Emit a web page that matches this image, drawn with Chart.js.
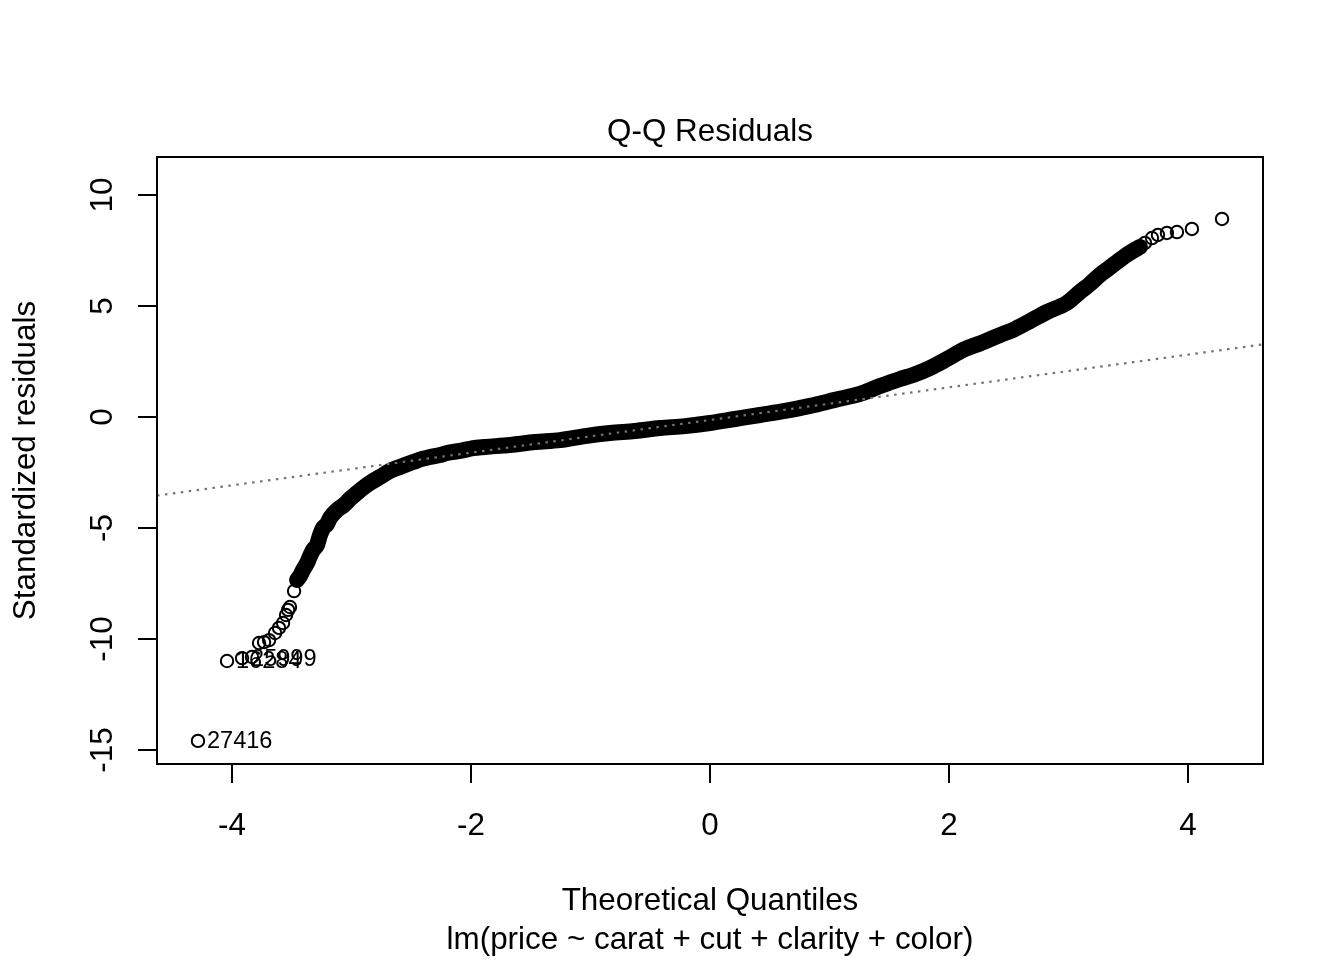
<!DOCTYPE html>
<html>
<head>
<meta charset="utf-8">
<script src="https://cdn.jsdelivr.net/npm/chart.js@4.4.1/dist/chart.umd.min.js"></script>
<style>
  html, body { margin: 0; padding: 0; background: #fff; }
  #wrap { width: 1344px; height: 960px; }
</style>
</head>
<body>
<div id="wrap"><canvas id="qqChart"></canvas></div>
<script>
// dense middle of the Q-Q cloud (theoretical quantile, standardized residual)
const bandTheo = [
  -3.456, -3.431, -3.406, -3.372, -3.347, -3.322, -3.289, -3.264, -3.238, -3.205,
  -3.18, -3.121, -3.063, -3.013, -2.954, -2.904, -2.845, -2.762, -2.678, -2.619,
  -2.552, -2.485, -2.41, -2.343, -2.259, -2.201, -2.092, -1.983, -1.883, -1.674,
  -1.464, -1.255, -1.046, -0.837, -0.628, -0.418, -0.209, 0, 0.209, 0.418,
  0.628, 0.837, 1.046, 1.255, 1.423, 1.59, 1.699, 1.841, 1.983, 2.134,
  2.259, 2.427, 2.536, 2.678, 2.82, 2.987, 3.096, 3.18, 3.264, 3.331,
  3.406, 3.473, 3.54, 3.598
];
const bandResid = [
  -7.34, -7.16, -6.89, -6.58, -6.26, -5.99, -5.77, -5.32, -5.0, -4.82,
  -4.55, -4.19, -3.96, -3.69, -3.42, -3.2, -2.97, -2.7, -2.43, -2.3,
  -2.16, -2.03, -1.89, -1.8, -1.71, -1.62, -1.53, -1.4, -1.35, -1.26,
  -1.13, -1.04, -0.86, -0.72, -0.63, -0.5, -0.41, -0.27, -0.09, 0.09,
  0.27, 0.5, 0.77, 1.04, 1.39, 1.71, 1.89, 2.21, 2.61, 3.06,
  3.31, 3.69, 3.92, 4.32, 4.73, 5.14, 5.63, 5.99, 6.4, 6.67,
  6.98, 7.25, 7.48, 7.66
];

// separate circles in the tails
const lowTheo = [-4.285, -4.042, -3.916, -3.833, -3.774, -3.732, -3.69, -3.64, -3.607, -3.573, -3.548, -3.531, -3.515, -3.481];
const lowResid = [-14.59, -10.99, -10.86, -10.81, -10.18, -10.14, -10.05, -9.73, -9.5, -9.28, -8.92, -8.69, -8.56, -7.84];
const highTheo = [3.64, 3.699, 3.749, 3.824, 3.908, 4.033, 4.285];
const highResid = [7.84, 8.06, 8.2, 8.29, 8.33, 8.47, 8.92];

// observation numbers printed next to the three most extreme points
const idLabels = ["27416", "16284", "25999"];
const idIndex = [0, 1, 2];

const qqLineX = [-4.628, 4.628];
const qqLineY = [-3.54, 3.27];

const xTicks = [-4, -2, 0, 2, 4];
const yTicks = [-15, -10, -5, 0, 5, 10];

const titleText = "Q-Q Residuals";
const xTitle = "Theoretical Quantiles";
const subTitle = "lm(price ~ carat + cut + clarity + color)";
const yTitle = "Standardized residuals";

const FONT = "Arial, 'Liberation Sans', sans-serif";
const BIG = 31.4;

const toPts = (xs, ys) => xs.map((x, i) => ({ x: x, y: ys[i] }));

const rTextPlugin = {
  id: "rText",
  afterDraw(chart) {
    const ctx = chart.ctx;
    const area = chart.chartArea;
    const xs = chart.scales.x;
    const ys = chart.scales.y;
    const midX = (area.left + area.right) / 2;
    const midY = (area.top + area.bottom) / 2;

    ctx.save();
    // frame
    ctx.strokeStyle = "#000";
    ctx.lineWidth = 2;
    ctx.strokeRect(area.left, area.top, area.right - area.left, area.bottom - area.top);

    ctx.fillStyle = "#000";
    ctx.font = BIG + "px " + FONT;
    ctx.textAlign = "center";
    ctx.textBaseline = "alphabetic";

    ctx.fillText(titleText, midX, area.top - 16);
    ctx.fillText(xTitle, midX, 910);
    ctx.fillText(subTitle, midX, 949);

    xTicks.forEach((v) => {
      ctx.fillText(String(v), xs.getPixelForValue(v), 835);
    });

    yTicks.forEach((v) => {
      ctx.save();
      ctx.translate(112, ys.getPixelForValue(v));
      ctx.rotate(-Math.PI / 2);
      ctx.fillText(String(v), 0, 0);
      ctx.restore();
    });

    ctx.save();
    ctx.translate(35, midY);
    ctx.rotate(-Math.PI / 2);
    ctx.fillText(yTitle, 0, 0);
    ctx.restore();

    // point ids
    ctx.font = (BIG * 0.75) + "px " + FONT;
    ctx.textAlign = "left";
    ctx.textBaseline = "middle";
    idIndex.forEach((k, i) => {
      const px = xs.getPixelForValue(lowTheo[k]) + 9;
      const py = ys.getPixelForValue(lowResid[k]) + 1;
      ctx.fillText(idLabels[i], px, py);
    });
    ctx.restore();
  },
};

const axisGrid = {
  display: true,
  drawOnChartArea: false,
  drawTicks: true,
  tickLength: 19,
  tickWidth: 2,
  tickColor: "#000",
  lineWidth: 2,
  color: "#000",
};

new Chart(document.getElementById("qqChart"), {
  type: "scatter",
  data: {
    datasets: [
      {
        label: "qqline",
        data: toPts(qqLineX, qqLineY),
        showLine: true,
        borderColor: "#737373",
        borderWidth: 2.2,
        borderDash: [2.5, 5.5],
        pointRadius: 0,
        order: 0,
      },
      {
        label: "tails",
        data: toPts(lowTheo, lowResid).concat(toPts(highTheo, highResid)),
        pointRadius: 6.2,
        pointBorderWidth: 2,
        pointBorderColor: "#000",
        pointBackgroundColor: "rgba(0,0,0,0)",
        order: 1,
      },
      {
        label: "residuals",
        data: toPts(bandTheo, bandResid),
        showLine: true,
        borderColor: "#000",
        borderWidth: 16,
        borderCapStyle: "round",
        borderJoinStyle: "round",
        cubicInterpolationMode: "monotone",
        pointRadius: 0,
        order: 2,
      },
    ],
  },
  options: {
    responsive: true,
    maintainAspectRatio: false,
    animation: false,
    events: [],
    layout: { padding: { top: 157, right: 81, left: 0, bottom: 0 } },
    plugins: {
      legend: { display: false },
      tooltip: { enabled: false },
    },
    scales: {
      x: {
        type: "linear",
        position: "bottom",
        min: -4.628,
        max: 4.628,
        grid: axisGrid,
        border: { display: false },
        ticks: { display: false },
        afterBuildTicks: (scale) => {
          scale.ticks = xTicks.map((v) => ({ value: v }));
        },
        afterFit: (scale) => {
          scale.height = 196;
        },
      },
      y: {
        type: "linear",
        position: "left",
        min: -15.63,
        max: 11.71,
        grid: axisGrid,
        border: { display: false },
        ticks: { display: false },
        afterBuildTicks: (scale) => {
          scale.ticks = yTicks.map((v) => ({ value: v }));
        },
        afterFit: (scale) => {
          scale.width = 157;
        },
      },
    },
  },
  plugins: [rTextPlugin],
});
</script>
</body>
</html>
